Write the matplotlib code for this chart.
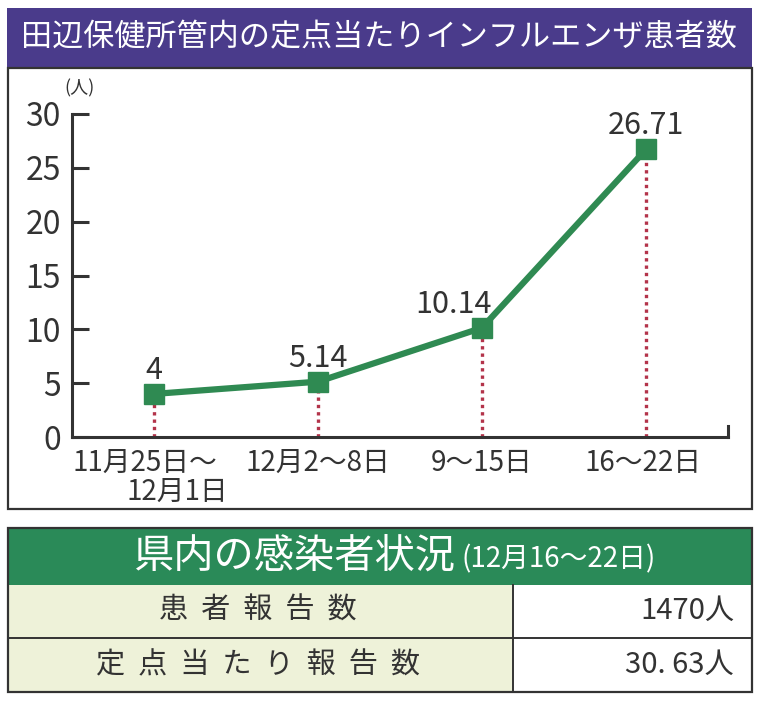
import numpy as np
import matplotlib
matplotlib.use('Agg')
import matplotlib.pyplot as plt
from matplotlib.patches import Rectangle

plt.rcParams['font.family'] = ['Noto Sans CJK JP', 'DejaVu Sans']

# data
title = '田辺保健所管内の定点当たりインフルエンザ患者数'
week_labels = [('11月25日～', '12月1日'), ('12月2～8日', ''), ('9～15日', ''), ('16～22日', '')]
values = [4, 5.14, 10.14, 26.71]
value_text = ['4', '5.14', '10.14', '26.71']
y_ticks = [0, 5, 10, 15, 20, 25, 30]
table_title = '県内の感染者状況'
table_period = '(12月16～22日)'
row_names = ['患  者  報  告  数', '定  点  当  た  り  報  告  数']
row_values = ['1470人', '30. 63人']

W, H = 760, 702
PURPLE = '#4a3b8b'
GREEN_HEAD = '#2a8a58'
LIGHT = '#eef2d9'
LINE_GREEN = '#2f8a52'
DOT_RED = '#b3334a'
DARK = '#333333'

fig = plt.figure(figsize=(W / 100, H / 100), dpi=100)

# background layer in pixel coordinates
bg = fig.add_axes([0, 0, 1, 1])
bg.set_xlim(0, W)
bg.set_ylim(H, 0)
bg.axis('off')

# title bar and chart frame
bg.add_patch(Rectangle((7, 8), 745, 60, facecolor=PURPLE, edgecolor='none'))
bg.add_patch(Rectangle((8, 68), 744, 441, facecolor='white', edgecolor=DARK, lw=1.6))
bg.text(379, 38, title, color='white', fontsize=22.4, ha='center', va='center')

# table
bg.add_patch(Rectangle((8, 528), 744, 57, facecolor=GREEN_HEAD, edgecolor='none'))
bg.add_patch(Rectangle((8, 585), 505, 107, facecolor=LIGHT, edgecolor='none'))
bg.add_patch(Rectangle((513, 585), 239, 107, facecolor='white', edgecolor='none'))
bg.add_patch(Rectangle((8, 528), 744, 164, facecolor='none', edgecolor=DARK, lw=1.6))
bg.plot([8, 752], [638, 638], color=DARK, lw=1.4)
bg.plot([513, 513], [585, 692], color=DARK, lw=1.4)
bg.text(456, 556, table_title, color='white', fontsize=29, ha='right', va='center')
bg.text(461, 559, table_period, color='white', fontsize=20, ha='left', va='center')
row_y = [611, 665]
for name, val, yy in zip(row_names, row_values, row_y):
    bg.text(258, yy, name, color=DARK, fontsize=21, ha='center', va='center')
    bg.text(734, yy, val, color=DARK, fontsize=21, ha='right', va='center')

# chart axes
x0, x1, y0, y1 = 72, 728, 437, 114
ax = fig.add_axes([x0 / W, 1 - y0 / H, (x1 - x0) / W, (y0 - y1) / H])
ax.patch.set_alpha(0)
x = np.arange(len(values))
ax.set_xlim(-0.5, 3.5)
ax.set_ylim(0, 30)

ax.vlines(x, 0, values, colors=DOT_RED, linestyles=(0, (1, 1.2)), lw=2.4, zorder=2)
ax.plot(x, values, color=LINE_GREEN, lw=4.5, marker='s', markersize=14.5, zorder=3)

label_shift = [0, 0, -29, 0]
for xi, v, t, dx in zip(x, values, value_text, label_shift):
    ax.annotate(t, (xi, v), xytext=(dx, 15), textcoords='offset pixels',
                ha='center', va='baseline', fontsize=22, color=DARK)

for s in ['top', 'right']:
    ax.spines[s].set_visible(False)
for s in ['left', 'bottom']:
    ax.spines[s].set_color(DARK)
    ax.spines[s].set_linewidth(2.2)
ax.plot([1, 1], [0, 0.035], transform=ax.transAxes, color=DARK, lw=2.2, clip_on=False)

ax.set_yticks(y_ticks)
ax.set_yticklabels([str(t) for t in y_ticks])
ax.tick_params(axis='y', direction='in', length=12, width=2.2, color=DARK,
               labelsize=23, labelcolor=DARK, pad=8)
ax.set_xticks([])

offsets = [(-9, 23), (0, 0), (0, 0), (-3, 0)]
for xi, (l1, l2), (o1, o2) in zip(x, week_labels, offsets):
    ax.annotate(l1, (xi, 0), xycoords=('data', 'axes fraction'), xytext=(o1, -26),
                textcoords='offset pixels', ha='center', va='center', fontsize=20, color=DARK)
    if l2:
        ax.annotate(l2, (xi, 0), xycoords=('data', 'axes fraction'), xytext=(o2, -55),
                    textcoords='offset pixels', ha='center', va='center', fontsize=20, color=DARK)

bg.text(80, 88, '(人)', fontsize=13, color=DARK, ha='center', va='center')

fig.savefig('out.png', dpi=100)
